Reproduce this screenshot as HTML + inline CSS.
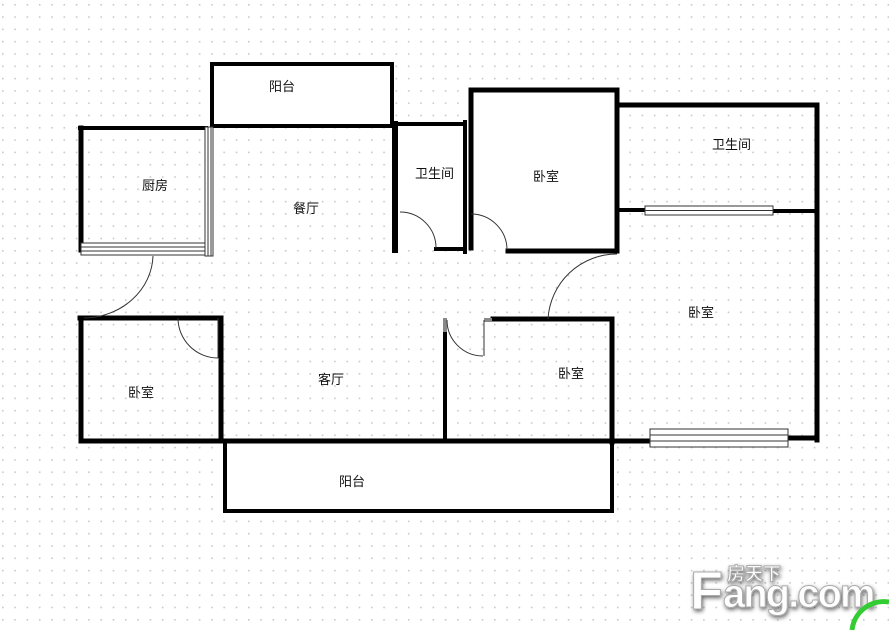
<!DOCTYPE html>
<html><head><meta charset="utf-8"><style>
html,body{margin:0;padding:0;background:#fff;}
svg{display:block;}
text{font-family:"Liberation Sans","Noto Sans CJK SC",sans-serif;font-size:13px;fill:#111;}
</style></head><body>
<svg width="889" height="630" viewBox="0 0 889 630" xmlns="http://www.w3.org/2000/svg">
<defs>
<pattern id="dots" x="2" y="4" width="12.3" height="12.3" patternUnits="userSpaceOnUse">
<rect x="0" y="0" width="1.6" height="1.6" fill="#c8c8c8"/>
</pattern>
<filter id="sh" x="-10%" y="-20%" width="120%" height="140%">
<feGaussianBlur in="SourceAlpha" stdDeviation="2"/>
<feOffset dx="1" dy="2" result="b"/>
<feComponentTransfer><feFuncA type="linear" slope="0.6"/></feComponentTransfer>
<feMerge><feMergeNode/><feMergeNode in="SourceGraphic"/></feMerge>
</filter>
</defs>
<rect width="889" height="630" fill="#fff"/>
<rect width="889" height="630" fill="url(#dots)"/>
<rect x="210" y="62" width="183" height="64" fill="#fff"/>
<rect x="469" y="88" width="148" height="162" fill="#fff"/>
<rect x="224" y="440" width="388" height="72" fill="#fff"/>
<rect x="393" y="122" width="72" height="128" fill="#fff"/>
<g stroke="#000" fill="none" stroke-linecap="square">
<rect x="212" y="64" width="180" height="62" stroke-width="4"/>
<path d="M80 128 H206" stroke-width="4"/>
<path d="M213 126 H393" stroke-width="4"/>
<path d="M81 128 V250" stroke-width="5"/>
<path d="M395 124 H464" stroke-width="4"/>
<path d="M395 124 V250" stroke-width="6"/>
<path d="M465 122 V252" stroke-width="4"/>
<path d="M436 249 H465" stroke-width="4"/>
<path d="M471 90 H617 V251 H508" stroke-width="5"/>
<path d="M471 90 V248" stroke-width="5"/>
<path d="M617 105 H817 V440" stroke-width="5"/>
<path d="M617 210 H645" stroke-width="4"/>
<path d="M773 211 H817" stroke-width="4"/>
<path d="M493 319 H612 V442" stroke-width="5"/>
<path d="M445 330 V437" stroke-width="4"/>
<path d="M82 441 H650" stroke-width="5"/>
<path d="M788 438 H817" stroke-width="5"/>
<path d="M225 441 V511 H612 V441" stroke-width="4"/>
<path d="M80 318 H221 V441" stroke-width="5"/>
<path d="M81 318 V441" stroke-width="5"/>
</g>
<rect x="443" y="318" width="4" height="14" fill="#888"/>
<rect x="484" y="318" width="8" height="4" fill="#888"/>
<g fill="#fff" stroke="#333" stroke-width="1">
<rect x="81" y="243" width="124" height="12"/>
<line x1="81" y1="247" x2="205" y2="247"/><line x1="81" y1="251" x2="205" y2="251"/>
<rect x="205" y="127" width="8" height="129"/>
<line x1="208" y1="127" x2="208" y2="256"/><line x1="211" y1="127" x2="211" y2="256"/>
<rect x="645" y="206" width="128" height="9"/>
<line x1="645" y1="210.5" x2="773" y2="210.5"/>
<rect x="650" y="429" width="138" height="18"/>
<line x1="650" y1="435" x2="788" y2="435"/><line x1="650" y1="441" x2="788" y2="441"/>
</g>
<g fill="none" stroke="#333" stroke-width="1">
<path d="M400 212 A36 36 0 0 1 436 248"/>
<path d="M471 214 A36 36 0 0 1 507 250"/>
<path d="M617 254 A69 69 0 0 0 548 319"/>
<path d="M153 256 A70 64 0 0 1 84 318"/>
<path d="M178 318 A40 40 0 0 0 218 358"/>
<line x1="218" y1="318" x2="218" y2="358"/>
<path d="M447 320 A36 36 0 0 0 483 356"/>
<line x1="484" y1="320" x2="484" y2="356"/>
</g>
<text x="269" y="91">阳台</text>
<text x="142" y="190">厨房</text>
<text x="293" y="213">餐厅</text>
<text x="415" y="178">卫生间</text>
<text x="533" y="181">卧室</text>
<text x="712" y="149">卫生间</text>
<text x="688" y="317">卧室</text>
<text x="558" y="378">卧室</text>
<text x="318" y="384">客厅</text>
<text x="128" y="397">卧室</text>
<text x="339" y="486">阳台</text>
<g filter="url(#sh)" stroke="#aaa" stroke-width="1">
<text x="727" y="580" style="font-size:18px;fill:#fff;font-weight:bold">房天下</text>
<text x="690" y="609" style="font-size:54px;fill:#fff;font-weight:bold;letter-spacing:-4px">F</text>
<text x="723" y="607" style="font-size:40px;fill:#fff;font-weight:bold;letter-spacing:-2px">ang.com</text>
</g>
<path d="M852 630 A32 32 0 0 1 889 602" fill="none" stroke="#3c3" stroke-width="5"/>
</svg>
</body></html>
